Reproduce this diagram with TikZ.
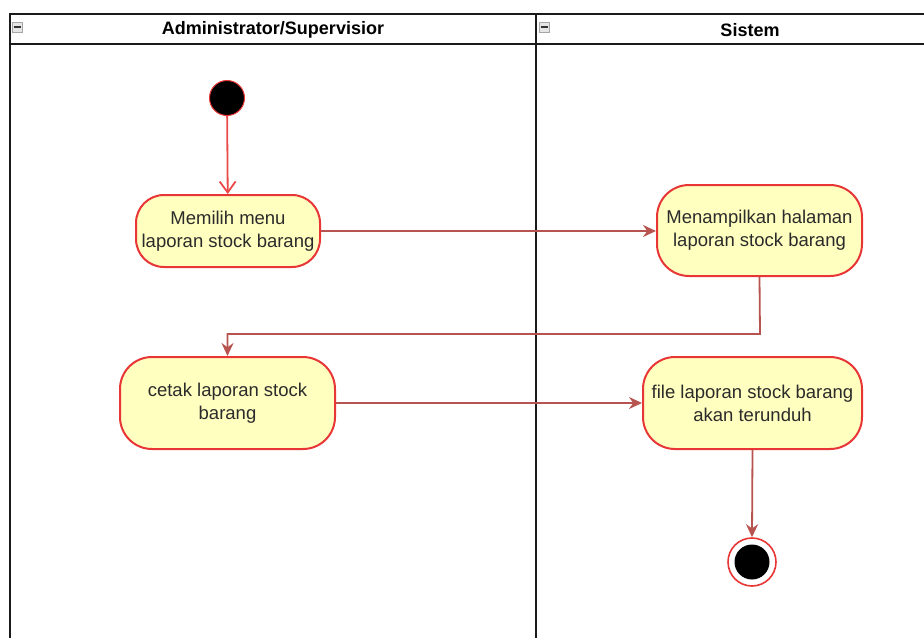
\documentclass[tikz,border=0pt]{standalone}
\usepackage{fontspec}
\setmainfont{Liberation Sans}
\usetikzlibrary{arrows.meta,positioning}
\definecolor{actfill}{HTML}{FFFFC0}
\definecolor{actdraw}{HTML}{E83535}
\definecolor{flow}{HTML}{B85450}
\definecolor{lane}{HTML}{1A1A1A}
\definecolor{acttext}{HTML}{2B2B2B}
\begin{document}
\begin{tikzpicture}[x=1pt,y=-1pt,
  act/.style={draw=actdraw,fill=actfill,line width=2pt,rounded corners=28pt,align=center,
    font=\fontsize{18.5}{23}\selectfont,text=acttext,inner sep=0pt},
  flowline/.style={draw=flow,line width=1.8pt,-{Stealth[length=13pt,width=12pt]}},
  lanel/.style={draw=lane,line width=2pt},
  hdr/.style={font=\bfseries\fontsize{18}{20}\selectfont},
  mini/.style={draw=gray!70,fill=gray!20,minimum size=10pt,inner sep=0pt,line width=1pt}]
\useasboundingbox (0,0) rectangle (924,638);
% swimlanes
\draw[lanel] (10,638) -- (10,14) -- (924,14);
\draw[lanel] (10,44) -- (924,44);
\draw[lanel] (536,14) -- (536,638);
\node[mini] (m1) at (17,27) {};
\draw[gray!40!black,line width=1.5pt] (13.5,27) -- (20.5,27);
\node[mini] (m2) at (544,27) {};
\draw[gray!40!black,line width=1.5pt] (540.5,27) -- (547.5,27);
\node[hdr] (h1) at (273,30) {Administrator/Supervisior};
\node[hdr] (h2) at (750,30) {Sistem};
% nodes
\node[circle,fill=black,draw=actdraw,line width=1pt,minimum size=35pt,inner sep=0pt] (start) at (227,98) {};
\node[act,minimum width=184pt,minimum height=72pt] (a1) at (228,231) {Memilih menu\\laporan stock barang};
\node[act,minimum width=205pt,minimum height=91pt,rounded corners=32pt] (a2) at (759.5,230.5) {Menampilkan halaman\\laporan stock barang};
\node[act,minimum width=215pt,minimum height=92pt,rounded corners=32pt] (a3) at (227.5,403) {cetak laporan stock\\barang};
\node[act,minimum width=219pt,minimum height=92pt,rounded corners=32pt] (a4) at (752.5,403) {file laporan stock barang\\akan terunduh};
\node[circle,draw=actdraw,fill=white,line width=1.6pt,minimum size=48pt,inner sep=0pt] (end) at (752,562) {};
\node[circle,fill=black,minimum size=35pt,inner sep=0pt] (endin) at (end.center) {};
% connectors
\draw[draw=actdraw!90,line width=1.8pt,-{Straight Barb[length=11pt,width=16pt]}] (start) -- (a1);
\draw[flowline] (a1.east) -- (a2.west |- a1.east);
\coordinate (c1) at (760,334);
\draw[flowline] (a2.south) -- (c1) -| (a3.north);
\draw[flowline] (a3.east) -- (a4.west |- a3.east);
\draw[flowline] (a4.south) -- (end.north);
\end{tikzpicture}
\end{document}
